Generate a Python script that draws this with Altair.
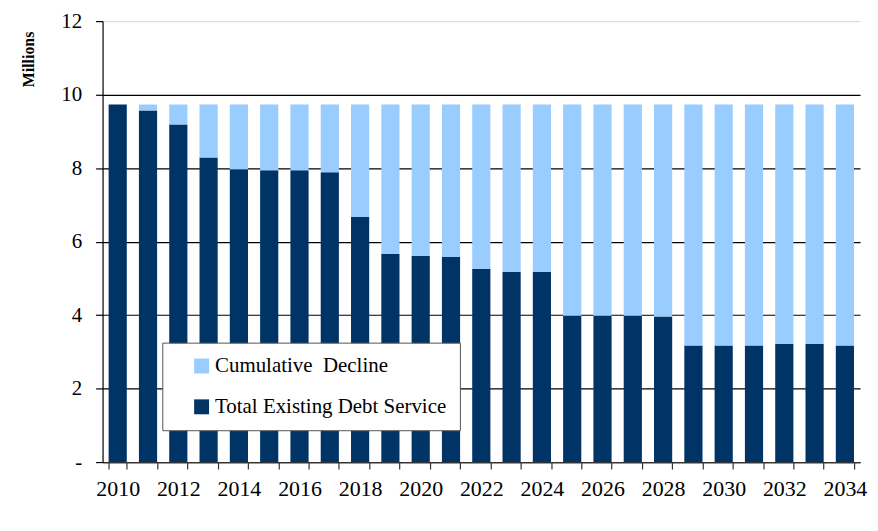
import altair as alt
import pandas as pd

years = [str(y) for y in range(2010, 2035)]
total_existing = [9.73, 9.57, 9.19, 8.29, 7.97, 7.94, 7.94, 7.89, 6.67, 5.66, 5.61, 5.58,
                  5.26, 5.18, 5.18, 3.98, 3.98, 3.98, 3.96, 3.17, 3.17, 3.17, 3.22, 3.22, 3.17]
bar_total = 9.73
series_names = ["Cumulative\u00a0 Decline", "Total Existing Debt Service"]
series_colors = ["#99CCFF", "#003366"]

rows = []
for y, t in zip(years, total_existing):
    rows.append({"Year": y, "Series": series_names[1], "Value": t, "ord": 0})
    rows.append({"Year": y, "Series": series_names[0], "Value": round(bar_total - t, 2), "ord": 1})
df = pd.DataFrame(rows)

FONT = "'Liberation Serif', 'Times New Roman', 'DejaVu Serif', serif"

chart = alt.Chart(df).mark_bar().encode(
    x=alt.X("Year:O", title=None,
            scale=alt.Scale(paddingInner=0.4, paddingOuter=0.2),
            axis=alt.Axis(labelExpr="toNumber(datum.value) % 2 == 0 ? datum.label : ''",
                          labelAngle=0, labelFont=FONT, labelFontSize=22, labelColor="#000",
                          tickBand="extent", tickSize=7, tickColor="#333", domainColor="#333",
                          labelPadding=10, grid=False)),
    y=alt.Y("Value:Q", title="Millions", stack="zero",
            scale=alt.Scale(domain=[0, 12], nice=False),
            axis=alt.Axis(values=[0, 2, 4, 6, 8, 10, 12],
                          labelExpr="datum.value == 0 ? '-' : datum.label",
                          labelFont=FONT, labelFontSize=21, labelColor="#000",
                          labelPadding=14, tickSize=7, tickColor="#000", domainColor="#000",
                          grid=True,
                          gridColor={"condition": {"test": "datum.value == 12", "value": "#dddddd"}, "value": "#000000"},
                          gridOpacity=1,
                          titleFont=FONT, titleFontSize=16, titleFontWeight="bold", titleColor="#000",
                          titleAngle=-90, titleX=-74, titleY=38,
                          titleAlign="center", titleBaseline="middle")),
    color=alt.Color("Series:N",
                    scale=alt.Scale(domain=series_names, range=series_colors),
                    legend=alt.Legend(title=None, orient="none", legendX=60, legendY=323,
                                      labelFont=FONT, labelFontSize=21, labelColor="#000",
                                      labelLimit=400,
                                      symbolType="square", symbolSize=225, symbolStrokeWidth=0,
                                      symbolOffset=16, labelOffset=3, rowPadding=19,
                                      padding=13, fillColor="white", strokeColor="#555")),
    order=alt.Order("ord:Q"),
).properties(
    width=761, height=443,
    autosize=alt.AutoSizeParams(type="none"),
    padding={"left": 95, "top": 12, "right": 10, "bottom": 55},
).configure_view(stroke=None).configure_axis(domainWidth=1.2, tickWidth=1.2, gridWidth=1.2)

chart.save("out.html", embed_options={"renderer": "svg", "actions": False})
